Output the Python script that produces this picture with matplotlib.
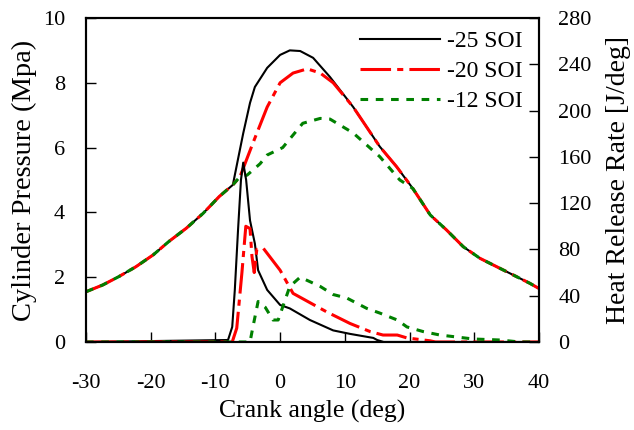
import matplotlib.pyplot as plt
import numpy as np

plt.rcParams['font.family'] = ['Liberation Serif', 'DejaVu Serif']
plt.rcParams['axes.unicode_minus'] = False

# shared compression stroke (all three curves overlap here)
cad_comp = [-30, -27.4, -24.9, -22.3, -19.6, -17.2, -14.5, -11.9, -9.4, -7.3]
p_comp = [1.55, 1.76, 2.02, 2.32, 2.69, 3.10, 3.51, 3.97, 4.49, 4.85]

# shared late expansion
cad_exp = [15.4, 18.0, 20.5, 23.2, 25.7, 28.3, 30.9, 33.5, 36.0, 38.6, 40]
p_exp = [6.03, 5.41, 4.74, 3.92, 3.46, 2.94, 2.58, 2.32, 2.07, 1.81, 1.65]

# cylinder pressure, combustion part (Mpa)
cad_p25 = [-6.55, -5.7, -4.65, -3.9, -2.0, 0.0, 1.5, 3.1, 5.1, 7.7, 11.3]
p25 = [5.6, 6.44, 7.38, 7.87, 8.46, 8.86, 9.0, 8.98, 8.77, 8.18, 7.25]

cad_p20 = [-6.2, -4.2, -2.0, 0.0, 2.0, 4.2, 6.2, 8.2, 11.3]
p20 = [5.1, 6.14, 7.25, 8.0, 8.3, 8.43, 8.3, 8.0, 7.25]

cad_p12 = [-6.2, -5.1, -3.1, -2.0, 0.4, 3.5, 6.2, 7.7, 11.3, 15.4, 18.5, 20.5]
p12 = [5.1, 5.15, 5.5, 5.77, 6.0, 6.75, 6.9, 6.88, 6.45, 5.72, 5.0, 4.74]

# heat release rate (J/deg)
cad_h25 = [-30, -8.05, -7.4, -7.0, -6.5, -6.05, -5.7, -5.25, -4.65, -3.9, -3.4,
           -2.0, 0.0, 1.5, 4.6, 8.2, 10.8, 14.4, 15.0, 16, 40]
h25 = [0, 1.7, 13, 45, 97, 140, 155, 140, 105, 85, 62,
       45, 32, 29, 19, 10, 7, 3.5, 1.7, 0, 0]

cad_h20 = [-30, -7.4, -6.7, -5.9, -5.3, -4.65, -4.35, -4.0, -3.6, -2.6, 0.0,
           2.0, 4.6, 7.2, 10.8, 13.9, 15.9, 18.1, 19.6, 23.2, 24, 40]
h20 = [0, 0, 12, 60, 100, 98, 74, 60, 80, 81, 62,
       42, 34, 26, 16, 9, 6, 6, 3.5, 1, 0, 0]

cad_h12 = [-30, -4.65, -4.2, -3.4, -2.3, -1.1, -0.3, 1.5, 3.1, 6.2, 8.2, 10.3,
           13.4, 15.4, 18.1, 19.6, 22.1, 24.7, 27.3, 29.8, 34, 37, 40]
h12 = [0, 0, 13, 35, 30, 19, 19, 48, 56, 48, 41, 38,
       29, 25, 19, 13, 9, 6, 4.3, 2.6, 1.7, 0, 0]

labels = ['-25 SOI', '-20 SOI', '-12 SOI']

fig = plt.figure(figsize=(6.34, 4.30), dpi=100)
fig.set_facecolor('white')
ax = fig.add_axes([0.1356, 0.2047, 0.7145, 0.7535])
ax2 = ax.twinx()

blk = dict(color='black', lw=1.5, ls='-')
red = dict(color='#ff0000', lw=2.2, dashes=(10, 2, 2, 2))
grn = dict(color='#008000', lw=2.2, dashes=(2.5, 2.5))

l1, = ax.plot(np.r_[cad_comp, cad_p25, cad_exp], np.r_[p_comp, p25, p_exp], **blk)
l2, = ax.plot(np.r_[cad_comp, cad_p20, cad_exp], np.r_[p_comp, p20, p_exp], **red)
l3, = ax.plot(np.r_[cad_comp, cad_p12, cad_exp[3:]], np.r_[p_comp, p12, p_exp[3:]], **grn)

ax2.plot(cad_h25, h25, **blk)
ax2.plot(cad_h20, h20, **red)
ax2.plot(cad_h12, h12, **grn)

ax.set_xlim(-30, 40)
ax.set_ylim(0, 10)
ax2.set_ylim(0, 280)
ax.set_xticks(range(-30, 41, 10))
ax.set_yticks(range(0, 11, 2))
ax2.set_yticks(range(0, 281, 40))

ax.set_xlabel('Crank angle (deg)', fontsize=18.5, labelpad=5)
ax.set_ylabel('Cylinder Pressure (Mpa)', fontsize=20.5, labelpad=4)
ax2.set_ylabel('Heat Release Rate [J/deg]', fontsize=20, labelpad=10)

for a in (ax, ax2):
    a.tick_params(direction='in', length=7, width=1, labelsize=16)
    for s in a.spines.values():
        s.set_linewidth(1.5)
ax.tick_params(axis='x', pad=23)
ax.tick_params(axis='y', pad=15)
ax2.tick_params(axis='y', pad=14)

ax.legend([l1, l2, l3], labels, loc='upper right', frameon=False, fontsize=17,
          handlelength=3.4, handletextpad=0.3, labelspacing=0.35,
          bbox_to_anchor=(0.985, 0.99), borderaxespad=0)

fig.savefig('out.png', dpi=100)
